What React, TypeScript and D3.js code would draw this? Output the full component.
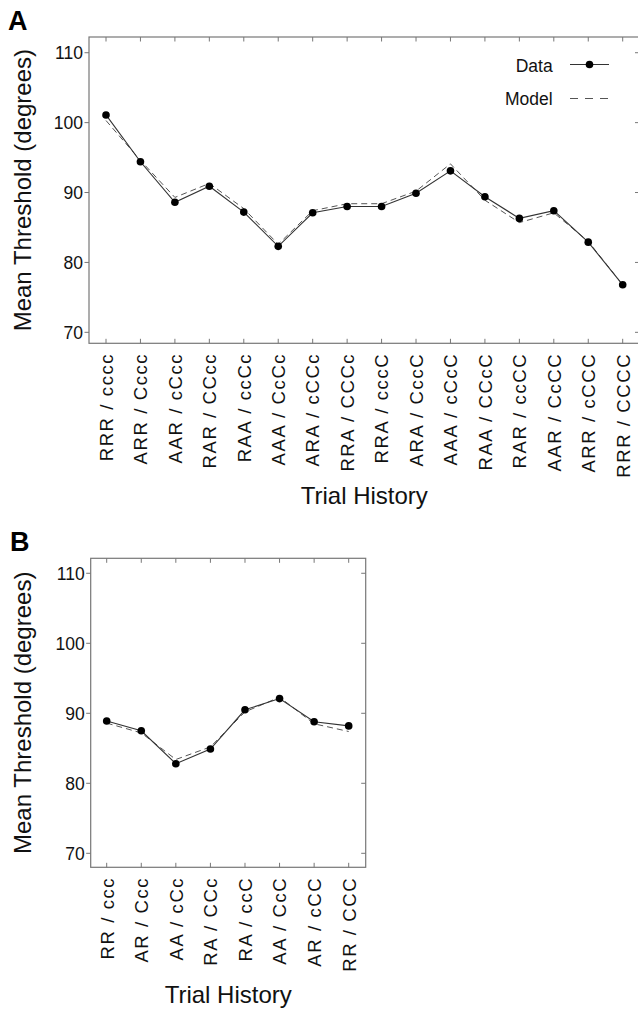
import React from "react";
import * as d3 from "d3";

const labelsA = [
  "RRR / cccc", "ARR / Cccc", "AAR / cCcc", "RAR / CCcc", "RAA / ccCc", "AAA / CcCc",
  "ARA / cCCc", "RRA / CCCc", "RRA / cccC", "ARA / CccC", "AAA / cCcC", "RAA / CCcC",
  "RAR / ccCC", "AAR / CcCC", "ARR / cCCC", "RRR / CCCC",
];
const dataA = [101.1, 94.4, 88.6, 90.9, 87.2, 82.3, 87.1, 88.0, 88.0, 89.9, 93.1, 89.4, 86.3, 87.4, 82.9, 76.8];
const modelA = [100.3, 94.6, 89.3, 91.3, 87.7, 82.6, 87.4, 88.4, 88.4, 90.2, 94.1, 88.9, 85.7, 87.1, 83.0, 76.8];

const labelsB = ["RR / ccc", "AR / Ccc", "AA / cCc", "RA / CCc", "RA / ccC", "AA / CcC", "AR / cCC", "RR / CCC"];
const dataB = [88.9, 87.5, 82.8, 84.9, 90.5, 92.1, 88.8, 88.2];
const modelB = [88.6, 87.2, 83.4, 85.2, 90.2, 92.3, 88.5, 87.4];

const yTicks = [70, 80, 90, 100, 110];

const FONT = "'Liberation Sans', Arial, Helvetica, sans-serif";

type PanelProps = {
  letter: string;
  labels: string[];
  data: number[];
  model: number[];
  left: number;
  right: number;
  top: number;
  bottom: number;
  yDomain: [number, number];
  padL: number;
  padR: number;
  titleY: number;
  legend?: boolean;
  letterX: number;
  letterY: number;
};

function Panel(p: PanelProps) {
  const x = d3.scalePoint<string>().domain(p.labels).range([p.left + p.padL, p.right - p.padR]);
  const y = d3.scaleLinear().domain(p.yDomain).range([p.bottom, p.top]);
  const line = d3
    .line<number>()
    .x((_, i) => x(p.labels[i]) as number)
    .y((d) => y(d));
  const cx = (p.left + p.right) / 2;
  const cy = (p.top + p.bottom) / 2;
  const boxColor = "#777";
  return (
    <g>
      <text x={p.letterX} y={p.letterY} fontFamily={FONT} fontWeight="bold" fontSize={27} fill="#000">
        {p.letter}
      </text>
      {/* box */}
      <rect
        x={p.left}
        y={p.top}
        width={p.right - p.left}
        height={p.bottom - p.top}
        fill="none"
        stroke={boxColor}
        strokeWidth={1.2}
      />
      {/* y ticks */}
      {yTicks.map((t) => (
        <g key={"yt" + t}>
          <line x1={p.left - 4.5} x2={p.left} y1={y(t)} y2={y(t)} stroke={boxColor} strokeWidth={1} />
          <line x1={p.right - 4.5} x2={p.right} y1={y(t)} y2={y(t)} stroke={boxColor} strokeWidth={1} />
          <text
            x={p.left - 6}
            y={y(t) + 6.3}
            textAnchor="end"
            fontFamily={FONT}
            fontSize={17.5}
            fill="#111"
          >
            {t}
          </text>
        </g>
      ))}
      {/* x ticks */}
      {p.labels.map((l) => {
        const xx = x(l) as number;
        return (
          <g key={"xt" + l}>
            <line x1={xx} x2={xx} y1={p.bottom} y2={p.bottom - 4.5} stroke={boxColor} strokeWidth={1} />
            <line x1={xx} x2={xx} y1={p.top} y2={p.top + 4.5} stroke={boxColor} strokeWidth={1} />
            <text
              transform={`translate(${xx + 6.8},${p.bottom + 9.5}) rotate(-90)`}
              textAnchor="end"
              fontFamily={FONT}
              fontSize={18.5}
              letterSpacing={1.6}
              fill="#111"
            >
              {l}
            </text>
          </g>
        );
      })}
      {/* model dashed */}
      <path d={line(p.model) || ""} fill="none" stroke="#555" strokeWidth={1} strokeDasharray="6,4" />
      {/* data line */}
      <path d={line(p.data) || ""} fill="none" stroke="#333" strokeWidth={1.1} />
      {p.data.map((d, i) => (
        <circle key={"pt" + i} cx={x(p.labels[i]) as number} cy={y(d)} r={3.8} fill="#000" />
      ))}
      {/* axis titles */}
      <text
        transform={`translate(31,${cy}) rotate(-90)`}
        textAnchor="middle"
        fontFamily={FONT}
        fontSize={24}
        fill="#111"
      >
        Mean Threshold (degrees)
      </text>
      <text x={cx} y={p.titleY} textAnchor="middle" fontFamily={FONT} fontSize={24} fill="#111">
        Trial History
      </text>
      {p.legend && (
        <g>
          <text x={552.7} y={71.5} textAnchor="end" fontFamily={FONT} fontSize={17.5} fill="#111">
            Data
          </text>
          <line x1={570} x2={609} y1={64.5} y2={64.5} stroke="#333" strokeWidth={1.1} />
          <circle cx={589.5} cy={64.5} r={3.8} fill="#000" />
          <text x={552.7} y={105} textAnchor="end" fontFamily={FONT} fontSize={17.5} fill="#111">
            Model
          </text>
          <line x1={570} x2={609} y1={98.5} y2={98.5} stroke="#555" strokeWidth={1} strokeDasharray="8,7" />
        </g>
      )}
    </g>
  );
}

export default function App() {
  return (
    <svg
      width={638}
      height={1010}
      viewBox="0 0 638 1010"
      style={{ position: "absolute", left: 0, top: 0, background: "#fff" }}
    >
      <rect x={0} y={0} width={638} height={1010} fill="#fff" />
      <Panel
        letter="A"
        labels={labelsA}
        data={dataA}
        model={modelA}
        left={89}
        right={639.5}
        top={37}
        bottom={343.3}
        yDomain={[68.43, 112.25]}
        padL={17}
        padR={16.8}
        titleY={504}
        legend
        letterX={8}
        letterY={30}
      />
      <Panel
        letter="B"
        labels={labelsB}
        data={dataB}
        model={modelB}
        left={90.7}
        right={365.7}
        top={558.3}
        bottom={867.3}
        yDomain={[68, 112.14]}
        padL={16}
        padR={17}
        titleY={1002.7}
        letterX={10}
        letterY={551}
      />
    </svg>
  );
}
